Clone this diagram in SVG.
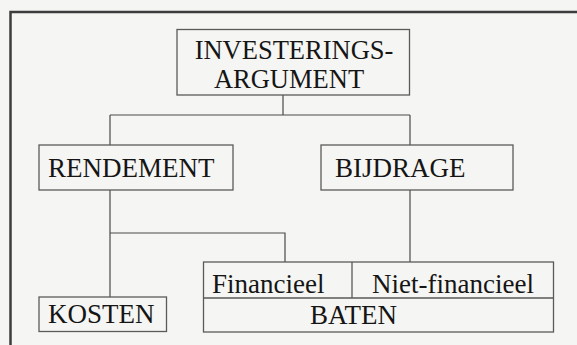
<svg xmlns="http://www.w3.org/2000/svg" width="577" height="345" viewBox="0 0 577 345">
<style>
.box{fill:none;stroke:#5a5a5a;stroke-width:1.3}
.ln{fill:none;stroke:#4a4a4a;stroke-width:1.2}
.t{font-family:"Liberation Serif","Times New Roman",serif;font-size:27px;fill:#151515}
.tt{font-size:26.5px}
</style>
<rect x="0" y="0" width="577" height="345" fill="#f5f5f3"/>
<path d="M10.5,345 V12 H577" fill="none" stroke="#3c3c3c" stroke-width="2.5"/>
<g id="connectors">
<path class="ln" d="M283,95 V115 M110,115 H410 M110,115 V145 M410,115 V145"/>
<path class="ln" d="M110,190 V297 M110,233 H285 V262"/>
<path class="ln" d="M410,190 V262"/>
</g>
<g id="investeringsargument">
<rect class="box" x="177" y="29.5" width="232.5" height="65.5"/>
<text class="t tt" x="294" y="58.5" text-anchor="middle">INVESTERINGS-</text>
<text class="t tt" x="289" y="88" text-anchor="middle">ARGUMENT</text>
</g>
<g id="rendement">
<rect class="box" x="39" y="145" width="194" height="45"/>
<text class="t" x="48" y="177">RENDEMENT</text>
</g>
<g id="bijdrage">
<rect class="box" x="321" y="145" width="192" height="45"/>
<text class="t" x="335" y="177">BIJDRAGE</text>
</g>
<g id="kosten">
<rect class="box" x="39" y="297" width="127.5" height="34.5"/>
<text class="t" x="48" y="323">KOSTEN</text>
</g>
<g id="baten">
<rect class="box" x="203.5" y="262" width="350" height="70"/>
<path class="box" d="M203.5,298 H553.5 M352,262 V298"/>
<text class="t" x="212" y="293">Financieel</text>
<text class="t" x="372" y="293">Niet-financieel</text>
<text class="t" x="310" y="323.5">BATEN</text>
</g>
</svg>
